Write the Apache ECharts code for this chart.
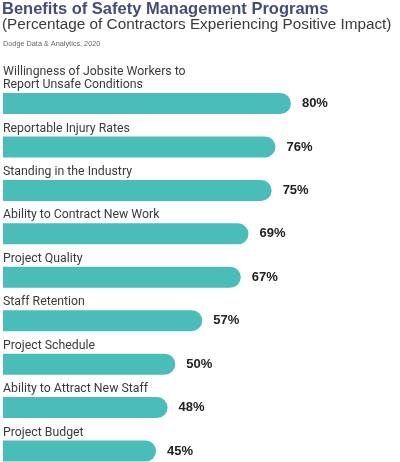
<!DOCTYPE html>
<html>
<head>
<meta charset="utf-8">
<script src="https://cdn.jsdelivr.net/npm/echarts@6/dist/echarts.min.js"></script>
<style>
html,body{margin:0;padding:0;background:#fff;}
#main{width:400px;height:462px;}
</style>
</head>
<body>
<div id="main"></div>
<script>
const categories = [
  "Willingness of Jobsite Workers to\nReport Unsafe Conditions",
  "Reportable Injury Rates",
  "Standing in the Industry",
  "Ability to Contract New Work",
  "Project Quality",
  "Staff Retention",
  "Project Schedule",
  "Ability to Attract New Staff",
  "Project Budget"
];
const values = [80, 76, 75, 69, 67, 57, 50, 48, 45];
const titleText = "Benefits of Safety Management Programs";
const subtitleText = "(Percentage of Contractors Experiencing Positive Impact)";
const sourceText = "Dodge Data & Analytics, 2020";

const chart = echarts.init(document.getElementById('main'));
chart.setOption({
  animation: false,
  backgroundColor: '#fff',
  title: [
    {text: titleText, left: 2, top: 1, padding: 0,
     textStyle: {fontFamily: 'Liberation Sans, Arial, sans-serif', fontSize: 16.5, fontWeight: 'bold', color: '#434c7c'}},
    {text: subtitleText, left: 2, top: 17, padding: 0,
     textStyle: {fontFamily: 'Liberation Sans, Arial, sans-serif', fontSize: 15.3, fontWeight: 'normal', color: '#3a3a3a'}},
    {text: sourceText, left: 3, top: 40, padding: 0,
     textStyle: {fontFamily: 'Liberation Sans, Arial, sans-serif', fontSize: 7.3, fontWeight: 'normal', color: '#666'}}
  ],
  graphic: [{
    type: 'rect', left: 0, top: 85, z: 100,
    shape: {width: 3, height: 377}, style: {fill: '#fff'}
  }],
  grid: {left: 3, width: 365, top: 103.5, height: 347.5, containLabel: false},
  xAxis: {type: 'value', min: 5.3, max: 100, show: false},
  yAxis: {
    type: 'category', data: categories, inverse: true, boundaryGap: false,
    axisLine: {show: false}, axisTick: {show: false}, splitLine: {show: false},
    axisLabel: {
      inside: true, margin: 0, align: 'left', verticalAlign: 'bottom',
      padding: [0, 0, 12, 0], lineHeight: 12.8,
      fontFamily: 'Roboto, sans-serif', fontSize: 12.3, color: '#3a3a3a'
    },
    z: 5
  },
  series: [{
    type: 'bar', data: values, barWidth: 21, clip: false,
    itemStyle: {color: '#4bbdb9', borderRadius: [0, 10.5, 10.5, 0]},
    label: {
      show: true, position: 'right', distance: 11, formatter: '{c}%',
      fontFamily: 'Liberation Sans, Arial, sans-serif', fontSize: 13, fontWeight: 'bold', color: '#222'
    }
  }]
});
</script>
</body>
</html>
